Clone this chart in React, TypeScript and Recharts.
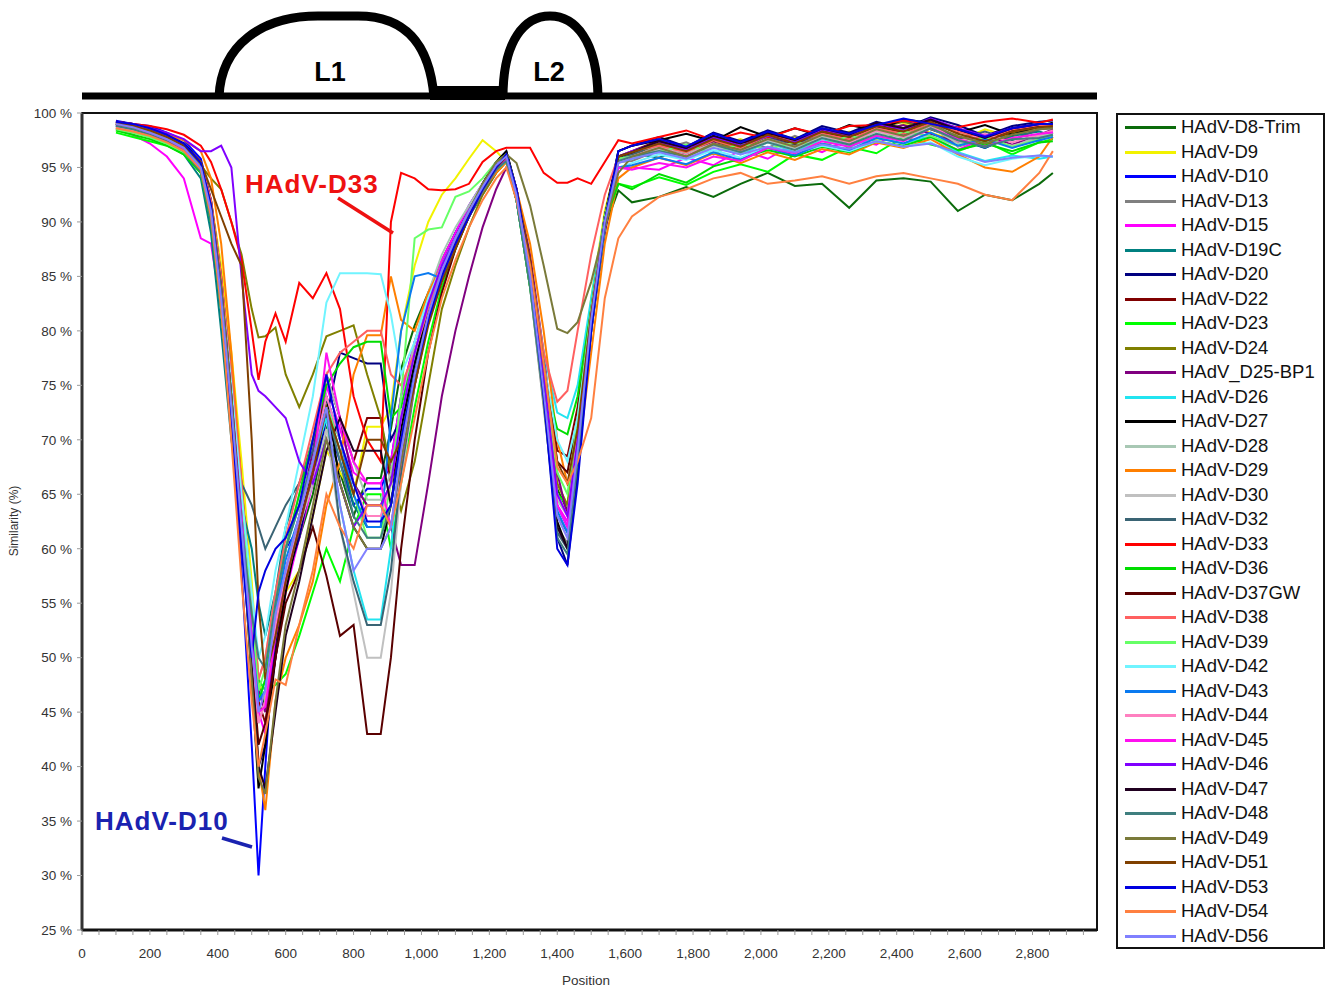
import React from 'react';
import { LineChart, Line, XAxis, YAxis, ReferenceArea } from 'recharts';

// sequence position (shared by every series)
const positions = [
  100, 150, 200, 250, 300, 350, 380, 410, 440, 470,
  500, 520, 540, 570, 600, 640, 680, 720, 760, 800,
  840, 880, 910, 940, 980, 1020, 1060, 1100, 1140, 1180,
  1220, 1250, 1280, 1320, 1360, 1400, 1430, 1460, 1500, 1540,
  1580, 1620, 1700, 1780, 1860, 1940, 2020, 2100, 2180, 2260,
  2340, 2420, 2500, 2580, 2660, 2740, 2820, 2860,
];

// similarity (%), one array per genome
const d8Trim = [
  98.6, 98.4, 97.9, 97.5, 96.8, 95.2, 91.5, 85.0, 77.0, 67.0,
  56.0, 48.0, 45.5, 51.0, 57.0, 61.0, 65.0, 71.0, 67.0, 63.0,
  66.5, 66.5, 71.0, 76.5, 80.5, 83.5, 86.5, 89.0, 91.0, 93.2,
  94.8, 96.0, 92.5, 85.0, 75.0, 65.5, 63.5, 70.0, 81.0, 89.5,
  92.9, 91.8, 92.3, 93.2, 92.3, 93.5, 94.5, 93.3, 93.5, 91.3,
  93.8, 94.0, 93.7, 91.0, 92.5, 92.0, 93.5, 94.5,
];
const d9 = [
  99.0, 98.8, 98.3, 97.8, 97.0, 95.5, 92.0, 86.0, 78.0, 68.0,
  57.0, 48.0, 46.0, 52.0, 56.0, 58.0, 63.0, 69.0, 67.0, 65.0,
  71.2, 71.2, 73.0, 80.0, 86.0, 90.0, 92.5, 94.0, 95.8, 97.5,
  96.5, 95.5, 93.0, 86.0, 76.0, 66.0, 64.0, 72.0, 83.0, 91.0,
  95.8, 96.4, 97.2, 95.8, 96.9, 97.6, 96.5, 97.8, 97.1, 98.3,
  97.6, 99.0, 98.2, 97.4, 98.5, 97.8, 98.8, 98.6,
];
const d10 = [
  99.3, 99.0, 98.8, 98.2, 97.5, 95.8, 92.0, 84.0, 72.0, 58.0,
  42.0, 30.0, 40.0, 54.0, 60.0, 62.0, 66.0, 72.0, 68.0, 64.0,
  65.5, 65.5, 68.0, 74.0, 79.0, 83.0, 86.0, 89.0, 91.5, 93.5,
  95.5, 96.2, 93.0, 86.0, 75.0, 64.0, 62.0, 70.0, 82.0, 90.5,
  96.0, 96.0, 97.4, 96.8, 97.9, 96.9, 98.0, 97.2, 98.4, 97.7,
  98.6, 99.3, 98.5, 97.6, 96.8, 97.9, 98.9, 98.9,
];
const d13 = [
  98.8, 98.5, 98.0, 97.4, 96.5, 94.5, 90.0, 82.0, 73.0, 63.0,
  52.0, 44.0, 46.0, 53.0, 58.0, 63.0, 67.0, 74.0, 70.0, 66.0,
  64.0, 64.0, 66.0, 72.0, 78.0, 82.5, 86.0, 88.5, 91.0, 93.0,
  95.0, 96.0, 92.0, 84.0, 73.0, 62.0, 60.5, 68.0, 80.0, 89.5,
  95.5, 95.6, 96.6, 97.3, 96.2, 97.5, 96.8, 97.9, 96.9, 97.8,
  98.5, 97.9, 98.9, 96.9, 97.6, 98.3, 97.4, 98.2,
];
const d15 = [
  98.5, 98.0, 97.2, 96.0, 94.0, 88.5, 88.0, 82.0, 72.0, 62.0,
  52.0, 45.0, 43.0, 50.0, 56.0, 61.0, 66.0, 75.0, 71.0, 67.0,
  66.0, 66.0, 68.0, 74.0, 79.0, 83.0, 86.5, 89.0, 91.5, 93.5,
  95.2, 96.0, 92.5, 85.0, 74.5, 64.0, 62.5, 70.0, 81.0, 90.0,
  95.0, 95.0, 94.8, 95.9, 95.2, 96.6, 95.8, 97.2, 96.4, 97.6,
  97.1, 98.6, 97.8, 96.6, 97.7, 96.9, 97.8, 98.3,
];
const d19c = [
  98.7, 98.3, 97.8, 97.2, 96.2, 94.0, 89.0, 80.0, 70.0, 64.0,
  60.0, 55.0, 52.0, 56.0, 62.0, 66.0, 70.0, 73.0, 69.0, 64.0,
  62.0, 62.0, 64.0, 70.0, 76.0, 81.0, 85.0, 88.0, 90.5, 92.5,
  94.5, 95.6, 92.0, 84.5, 74.0, 63.0, 61.5, 69.0, 80.5, 89.0,
  95.5, 96.3, 95.9, 96.9, 97.4, 96.3, 97.6, 96.9, 98.1, 97.2,
  98.4, 98.0, 99.1, 97.7, 96.8, 97.9, 98.3, 97.9,
];
const d20 = [
  99.2, 99.0, 98.6, 98.0, 97.2, 95.5, 92.0, 85.0, 75.0, 63.0,
  50.0, 40.0, 42.0, 51.0, 57.0, 61.0, 67.0, 72.0, 78.0, 77.5,
  77.0, 77.0, 70.0, 72.0, 77.0, 82.0, 85.5, 88.5, 91.0, 93.5,
  95.5, 96.5, 93.0, 85.5, 75.0, 61.0, 58.5, 67.0, 80.0, 90.0,
  96.5, 97.0, 97.8, 96.9, 98.2, 97.4, 98.4, 97.6, 98.8, 98.2,
  99.2, 98.6, 99.6, 98.9, 97.9, 98.8, 99.2, 99.3,
];
const d22 = [
  99.0, 98.7, 98.2, 97.6, 96.8, 95.0, 91.0, 84.0, 75.0, 65.0,
  54.0, 46.0, 44.0, 50.0, 57.0, 62.0, 67.0, 76.0, 72.0, 68.0,
  72.0, 72.0, 66.0, 70.0, 76.0, 81.0, 85.0, 88.0, 90.5, 93.0,
  95.0, 96.2, 93.0, 86.0, 77.0, 69.0, 68.5, 73.0, 82.5, 90.5,
  96.0, 96.5, 97.5, 96.6, 97.6, 97.1, 98.1, 97.4, 98.3, 97.9,
  98.9, 98.4, 99.3, 98.6, 97.5, 98.2, 98.9, 98.7,
];
const d23 = [
  98.2, 97.8, 97.4, 97.0, 96.2, 94.5, 90.0, 82.0, 72.0, 62.0,
  52.0, 48.0, 47.0, 47.5, 48.5, 52.0, 56.0, 60.0, 57.0, 62.0,
  65.0, 65.0, 60.0, 66.0, 73.0, 79.0, 84.0, 87.5, 90.5, 93.0,
  95.0, 96.0, 92.0, 84.0, 74.0, 65.0, 64.0, 71.0, 82.0, 90.0,
  93.5, 93.2, 94.1, 93.4, 94.6, 95.3, 94.6, 96.2, 95.7, 96.9,
  96.3, 97.8, 97.1, 96.5, 97.4, 96.2, 97.3, 97.6,
];
const d24 = [
  99.0, 98.6, 98.2, 97.6, 96.8, 95.2, 94.0, 93.0, 90.0, 87.0,
  82.0, 79.4, 79.5, 80.3, 76.0, 73.0, 76.0, 79.5, 80.0, 80.5,
  76.0, 72.0, 67.0, 63.5, 68.0, 75.0, 82.0, 86.0, 89.5, 92.5,
  94.5, 95.5, 92.0, 85.0, 75.0, 66.0, 64.0, 71.0, 82.0, 90.0,
  95.8, 96.2, 97.1, 96.3, 97.4, 96.6, 97.9, 97.0, 98.2, 97.5,
  98.6, 99.2, 98.5, 97.8, 97.0, 98.1, 98.7, 98.8,
];
const d25bp1 = [
  98.8, 98.5, 98.0, 97.4, 96.5, 94.8, 91.0, 84.0, 75.0, 65.0,
  55.0, 47.0, 45.0, 52.0, 58.0, 63.0, 69.0, 76.0, 72.0, 66.0,
  64.0, 64.0, 62.0, 58.5, 58.5, 66.0, 74.0, 80.0, 85.0, 89.5,
  93.0, 95.0, 93.0, 87.0, 78.0, 67.0, 63.0, 68.0, 80.0, 89.0,
  95.5, 96.0, 96.9, 96.2, 97.3, 96.4, 97.6, 97.1, 97.9, 97.4,
  98.4, 98.9, 98.1, 97.3, 98.0, 97.1, 98.0, 98.5,
];
const d26 = [
  99.0, 98.7, 98.2, 97.6, 96.8, 95.0, 91.0, 83.0, 73.0, 62.0,
  52.0, 46.0, 48.0, 55.0, 60.0, 64.0, 68.0, 72.0, 64.0, 58.0,
  53.5, 53.5, 60.0, 70.0, 77.0, 82.0, 85.5, 88.5, 91.0, 93.0,
  95.0, 95.8, 92.5, 86.0, 78.0, 72.5, 72.0, 75.0, 83.0, 90.5,
  95.5, 95.8, 96.8, 95.9, 97.1, 96.2, 97.3, 96.4, 97.6, 96.9,
  97.8, 97.2, 97.9, 96.4, 95.6, 96.1, 95.8, 96.0,
];
const d27 = [
  99.2, 99.0, 98.5, 98.0, 97.2, 95.5, 91.5, 84.0, 74.0, 62.0,
  48.0, 38.0, 42.0, 50.0, 56.0, 62.0, 68.0, 74.0, 66.0, 62.0,
  60.0, 60.0, 64.0, 71.0, 77.0, 82.0, 85.5, 88.5, 91.0, 93.5,
  95.5, 96.5, 93.0, 85.0, 74.0, 62.5, 60.0, 68.0, 81.0, 90.5,
  96.5, 97.0, 97.5, 98.1, 97.4, 98.7, 97.8, 98.6, 97.9, 98.9,
  98.4, 99.4, 99.1, 98.2, 98.9, 98.0, 98.8, 99.1,
];
const d28 = [
  98.5, 98.2, 97.8, 97.2, 96.4, 94.6, 90.5, 83.0, 74.0, 64.0,
  54.0, 48.0, 50.0, 56.0, 60.0, 65.0, 70.0, 76.0, 72.0, 68.0,
  64.5, 64.5, 67.0, 73.0, 79.0, 83.5, 87.0, 89.5, 91.5, 93.5,
  95.0, 95.8, 92.5, 85.0, 75.0, 64.5, 63.0, 70.5, 81.5, 90.0,
  95.8, 96.0, 96.9, 96.3, 97.2, 96.5, 97.5, 96.8, 97.9, 97.3,
  98.3, 97.7, 98.7, 97.2, 97.8, 96.9, 97.9, 98.1,
];
const d29 = [
  99.0, 98.8, 98.6, 98.0, 97.5, 96.5, 94.0, 88.0, 78.0, 66.0,
  50.0, 40.0, 36.0, 46.0, 50.0, 53.0, 57.0, 64.0, 68.0, 76.0,
  79.6, 79.6, 85.0, 81.0, 80.0, 83.5, 86.0, 88.5, 91.0, 93.0,
  94.5, 95.5, 93.0, 88.0, 80.0, 70.0, 66.0, 68.0, 78.0, 88.0,
  94.0, 95.0, 95.9, 95.2, 96.3, 95.4, 96.4, 95.7, 96.7, 96.2,
  97.3, 96.8, 97.6, 96.2, 95.0, 94.6, 96.0, 97.8,
];
const d30 = [
  98.6, 98.3, 97.9, 97.3, 96.5, 94.8, 90.5, 82.0, 72.0, 61.0,
  50.0, 44.0, 46.0, 53.0, 58.0, 62.0, 66.0, 71.0, 62.0, 56.0,
  50.0, 50.0, 56.0, 66.0, 75.0, 81.0, 85.0, 88.0, 90.5, 93.0,
  95.0, 95.8, 92.0, 84.0, 73.5, 63.0, 61.0, 69.0, 80.5, 89.5,
  95.5, 96.0, 96.6, 95.9, 97.0, 96.4, 97.3, 96.6, 97.7, 97.1,
  98.0, 98.5, 97.7, 97.0, 97.6, 97.0, 97.6, 98.0,
];
const d32 = [
  98.9, 98.6, 98.1, 97.5, 96.6, 94.8, 90.0, 82.0, 73.0, 66.0,
  64.0, 62.0, 60.0, 62.0, 64.0, 66.0, 69.0, 73.0, 62.0, 57.0,
  53.0, 53.0, 58.0, 67.0, 75.0, 81.0, 85.0, 88.0, 90.5, 92.8,
  94.8, 95.8, 92.0, 84.5, 74.0, 61.5, 60.0, 68.0, 80.0, 89.5,
  95.8, 96.2, 97.2, 96.5, 97.6, 96.9, 97.8, 97.1, 98.2, 97.6,
  98.7, 98.1, 99.0, 97.6, 98.3, 97.5, 98.5, 98.6,
];
const d33 = [
  99.2, 99.0, 98.8, 98.5, 98.0, 97.0, 95.5, 93.0, 90.0, 86.5,
  80.0, 75.5, 79.0, 81.6, 79.0, 84.4, 83.0, 85.3, 82.0, 74.0,
  70.0, 68.0, 90.0, 94.5, 94.0, 93.0, 92.9, 93.0, 93.5, 95.5,
  96.5, 96.8, 96.8, 96.8, 94.5, 93.6, 93.6, 94.0, 93.5, 95.5,
  97.5, 97.2, 97.8, 98.4, 97.5, 98.2, 97.7, 98.6, 98.0, 98.8,
  98.9, 99.3, 99.0, 98.7, 99.2, 99.5, 99.1, 99.4,
];
const d36 = [
  98.4, 98.0, 97.6, 97.0, 96.2, 94.5, 90.0, 82.0, 72.0, 62.0,
  52.0, 46.0, 48.0, 55.0, 60.0, 65.0, 70.0, 75.0, 77.0, 78.5,
  79.0, 79.0, 72.0, 73.0, 78.0, 82.5, 86.0, 88.5, 91.0, 93.0,
  94.8, 95.6, 92.0, 84.0, 76.0, 71.0, 70.5, 74.0, 82.0, 90.0,
  93.5, 93.0, 94.4, 93.6, 95.1, 95.8, 96.6, 96.0, 96.9, 96.4,
  97.4, 97.0, 97.8, 96.6, 97.2, 96.5, 97.3, 97.4,
];
const d37gw = [
  99.0, 98.7, 98.2, 97.6, 96.8, 95.0, 91.0, 83.0, 73.0, 62.0,
  50.0, 42.0, 44.0, 50.0, 55.0, 58.0, 62.0, 57.5, 52.0, 53.0,
  43.0, 43.0, 50.0, 60.0, 70.0, 78.0, 83.5, 87.5, 90.5, 93.0,
  95.0, 96.0, 93.0, 86.0, 76.0, 68.0, 67.0, 72.0, 82.0, 90.5,
  96.0, 96.4, 97.3, 96.7, 97.8, 97.0, 97.9, 97.2, 98.3, 97.7,
  98.8, 98.2, 99.4, 98.4, 97.6, 98.4, 98.9, 98.8,
];
const d38 = [
  99.0, 98.8, 98.4, 97.8, 97.0, 95.5, 92.0, 85.0, 76.0, 66.0,
  55.0, 48.0, 50.0, 56.0, 61.0, 66.0, 71.0, 76.0, 78.0, 79.0,
  80.0, 80.0, 76.0, 75.0, 78.0, 82.0, 85.5, 88.5, 91.0, 93.2,
  95.0, 95.8, 92.5, 86.0, 78.0, 73.5, 74.5, 80.0, 87.0, 92.5,
  96.0, 96.5, 97.0, 96.4, 97.5, 96.8, 97.9, 97.4, 98.1, 97.6,
  98.6, 98.1, 99.0, 98.3, 97.6, 98.5, 98.9, 98.8,
];
const d39 = [
  98.5, 98.2, 97.8, 97.2, 96.4, 94.8, 90.5, 83.0, 74.0, 64.0,
  54.0, 47.0, 49.0, 55.0, 60.0, 64.0, 68.0, 73.0, 70.0, 65.0,
  61.0, 61.0, 66.0, 74.0, 88.5, 89.3, 89.5, 92.3, 92.8, 94.0,
  95.5, 96.2, 93.0, 85.5, 76.0, 67.0, 65.0, 72.0, 82.0, 90.5,
  95.8, 96.0, 96.4, 97.1, 96.3, 97.2, 96.7, 97.3, 97.0, 97.9,
  97.4, 98.3, 97.9, 97.0, 97.8, 96.9, 97.6, 98.0,
];
const d42 = [
  98.8, 98.5, 98.0, 97.4, 96.6, 95.0, 91.0, 84.0, 75.0, 65.0,
  56.0, 50.0, 52.0, 58.0, 62.0, 68.0, 74.0, 82.6, 85.3, 85.3,
  85.3, 85.2, 81.5, 76.0, 79.0, 83.0, 86.0, 88.5, 91.0, 93.0,
  94.8, 95.6, 92.5, 85.5, 77.0, 70.0, 68.0, 72.0, 81.0, 89.5,
  95.0, 95.4, 96.2, 95.7, 96.6, 95.9, 96.9, 96.3, 97.0, 96.5,
  97.4, 96.9, 97.3, 96.0, 95.2, 95.8, 96.1, 96.0,
];
const d43 = [
  98.9, 98.6, 98.2, 97.6, 96.8, 95.0, 91.0, 84.0, 74.0, 63.0,
  52.0, 46.0, 47.0, 54.0, 59.0, 63.0, 68.0, 74.0, 70.0, 65.0,
  62.0, 62.0, 72.0, 80.0, 85.0, 85.3, 84.8, 88.5, 91.0, 93.0,
  94.8, 95.8, 92.0, 84.5, 74.5, 63.5, 61.5, 69.0, 81.0, 90.0,
  95.0, 95.2, 95.9, 95.3, 96.4, 95.7, 96.8, 96.1, 97.2, 96.6,
  97.7, 97.2, 98.2, 97.0, 97.6, 96.8, 97.5, 97.8,
];
const d44 = [
  98.7, 98.4, 98.0, 97.4, 96.6, 94.8, 90.5, 83.0, 73.0, 62.0,
  51.0, 44.0, 46.0, 53.0, 58.0, 63.0, 68.0, 74.0, 70.0, 66.0,
  63.0, 63.0, 66.0, 72.0, 78.0, 82.5, 86.0, 88.5, 91.0, 93.2,
  95.0, 95.8, 92.5, 85.0, 75.0, 65.0, 63.0, 70.0, 81.5, 90.0,
  95.6, 96.0, 96.8, 96.1, 97.2, 96.5, 97.6, 96.9, 98.0, 97.3,
  98.4, 97.8, 98.9, 97.4, 98.1, 97.3, 98.0, 98.4,
];
const d45 = [
  98.9, 98.6, 98.1, 97.5, 96.7, 95.0, 91.0, 84.0, 74.0, 63.0,
  52.0, 45.0, 45.5, 52.0, 57.0, 62.0, 67.0, 78.0, 72.0, 68.0,
  66.0, 66.0, 62.0, 68.0, 75.0, 81.0, 85.0, 88.0, 90.5, 92.8,
  94.8, 95.8, 92.5, 85.5, 75.0, 64.0, 62.0, 69.5, 81.0, 90.0,
  95.0, 94.8, 95.4, 95.0, 96.0, 95.6, 96.8, 96.3, 97.4, 96.9,
  97.9, 97.4, 98.6, 97.6, 96.9, 97.7, 98.1, 98.2,
];
const d46 = [
  99.2, 99.0, 98.6, 98.2, 97.6, 96.5, 96.5, 97.0, 95.0, 85.0,
  76.0, 74.5, 74.0, 73.0, 72.0, 68.0, 66.0, 70.0, 66.0, 62.0,
  64.0, 64.0, 66.0, 72.0, 78.0, 82.5, 86.0, 88.5, 91.0, 93.0,
  95.0, 96.0, 93.0, 86.0, 76.0, 65.0, 63.0, 70.0, 81.5, 90.0,
  96.0, 96.5, 97.3, 96.6, 97.8, 97.0, 97.9, 97.3, 98.5, 97.9,
  99.0, 98.5, 99.5, 98.6, 97.9, 98.6, 99.0, 99.0,
];
const d47 = [
  99.1, 98.8, 98.3, 97.7, 96.9, 95.2, 91.5, 84.0, 74.0, 62.0,
  49.0, 40.0, 38.0, 45.0, 52.0, 57.0, 63.0, 69.0, 72.0, 69.0,
  69.0, 69.0, 64.0, 70.0, 76.0, 81.5, 85.0, 88.0, 90.5, 93.0,
  95.0, 96.0, 92.5, 85.0, 74.5, 62.0, 60.0, 68.0, 80.5, 90.0,
  96.0, 96.4, 97.4, 96.8, 97.9, 97.2, 98.2, 97.5, 98.6, 98.0,
  99.1, 98.6, 99.4, 98.5, 97.7, 98.6, 99.0, 99.0,
];
const d48 = [
  98.8, 98.5, 98.0, 97.4, 96.5, 94.6, 90.0, 82.0, 72.0, 62.0,
  54.0, 50.0, 49.0, 55.0, 60.0, 64.0, 68.0, 73.0, 68.0, 63.0,
  61.0, 61.0, 64.0, 70.0, 76.0, 81.0, 85.0, 88.0, 90.5, 92.8,
  94.8, 95.6, 92.0, 84.0, 73.5, 61.0, 59.5, 68.0, 80.0, 89.5,
  95.6, 96.0, 96.5, 96.0, 97.1, 96.4, 97.3, 96.6, 97.7, 97.1,
  98.1, 97.5, 98.6, 97.5, 96.9, 97.6, 97.7, 98.0,
];
const d49 = [
  99.0, 98.7, 98.3, 97.7, 96.9, 95.2, 91.5, 84.0, 74.0, 62.0,
  48.0, 39.0, 37.5, 46.0, 53.0, 58.0, 64.0, 70.0, 66.0, 62.0,
  60.0, 60.0, 62.0, 68.0, 75.0, 81.0, 85.0, 88.0, 91.0, 93.5,
  95.5, 96.2, 95.4, 91.5, 86.0, 80.2, 79.8, 80.8, 84.5, 89.5,
  94.5, 96.0, 96.8, 96.0, 97.2, 96.6, 97.6, 96.9, 98.0, 97.4,
  98.5, 97.9, 98.9, 97.9, 97.2, 98.0, 98.5, 98.6,
];
const d51 = [
  99.1, 98.8, 98.4, 97.8, 97.0, 95.5, 93.0, 90.5, 88.0, 86.0,
  70.0, 55.0, 48.0, 52.0, 57.0, 62.0, 67.0, 73.0, 69.0, 65.0,
  70.0, 70.0, 68.0, 70.0, 75.0, 80.5, 84.5, 87.5, 90.5, 93.0,
  95.0, 96.0, 93.0, 86.5, 77.0, 68.0, 66.0, 71.0, 81.5, 90.0,
  96.0, 96.4, 97.2, 96.5, 97.6, 96.9, 98.0, 97.2, 98.3, 97.8,
  98.8, 98.3, 99.2, 98.1, 97.4, 98.3, 98.7, 98.8,
];
const d53 = [
  99.2, 99.0, 98.6, 98.0, 97.2, 95.4, 91.5, 83.0, 72.0, 60.0,
  50.0, 56.0, 58.0, 60.0, 61.0, 64.0, 70.0, 76.0, 70.0, 66.0,
  62.5, 62.5, 64.0, 70.0, 76.0, 81.0, 85.0, 88.0, 90.5, 93.0,
  95.0, 96.2, 93.0, 85.5, 74.0, 60.0, 58.5, 66.0, 80.0, 90.0,
  96.5, 97.0, 97.6, 96.9, 98.1, 97.3, 98.3, 97.6, 98.6, 98.1,
  98.9, 99.5, 99.0, 98.5, 97.8, 98.6, 99.0, 99.0,
];
const d54 = [
  98.6, 98.3, 97.9, 97.3, 96.5, 94.8, 90.5, 82.0, 70.0, 57.0,
  46.0, 40.0, 43.0, 48.0, 47.5, 53.0, 58.0, 65.0, 62.0, 60.0,
  64.0, 64.0, 62.0, 66.0, 72.0, 78.0, 83.0, 86.5, 89.5, 92.0,
  94.0, 95.0, 92.0, 86.0, 77.0, 67.5, 66.0, 68.0, 72.0, 83.0,
  88.5, 90.5, 92.3, 93.0, 94.0, 94.5, 93.5, 93.8, 94.2, 93.5,
  94.2, 94.5, 94.0, 93.5, 92.5, 92.0, 94.5, 96.5,
];
const d56 = [
  99.0, 98.7, 98.2, 97.6, 96.8, 95.0, 91.0, 83.0, 73.0, 62.0,
  51.0, 45.0, 47.0, 54.0, 58.0, 63.0, 68.0, 73.0, 64.0, 58.0,
  60.0, 60.0, 62.0, 69.0, 76.0, 81.5, 85.5, 88.5, 91.0, 93.2,
  95.2, 96.0, 92.5, 85.0, 74.5, 63.0, 61.0, 69.0, 81.0, 90.0,
  95.4, 95.8, 96.4, 95.8, 96.8, 96.2, 96.9, 96.4, 97.1, 96.7,
  97.4, 96.9, 97.2, 96.3, 95.5, 95.9, 96.1, 96.0,
];

const series = [
  { name: 'HAdV-D8-Trim', color: '#0b6b0b', values: d8Trim },
  { name: 'HAdV-D9', color: '#f2f200', values: d9 },
  { name: 'HAdV-D10', color: '#0000ff', values: d10 },
  { name: 'HAdV-D13', color: '#808080', values: d13 },
  { name: 'HAdV-D15', color: '#ff00ff', values: d15 },
  { name: 'HAdV-D19C', color: '#008080', values: d19c },
  { name: 'HAdV-D20', color: '#000080', values: d20 },
  { name: 'HAdV-D22', color: '#800000', values: d22 },
  { name: 'HAdV-D23', color: '#00ff00', values: d23 },
  { name: 'HAdV-D24', color: '#808000', values: d24 },
  { name: 'HAdV_D25-BP1', color: '#800080', values: d25bp1 },
  { name: 'HAdV-D26', color: '#22e4f0', values: d26 },
  { name: 'HAdV-D27', color: '#000000', values: d27 },
  { name: 'HAdV-D28', color: '#a8c8b4', values: d28 },
  { name: 'HAdV-D29', color: '#ff7f00', values: d29 },
  { name: 'HAdV-D30', color: '#c0c0c0', values: d30 },
  { name: 'HAdV-D32', color: '#3a6474', values: d32 },
  { name: 'HAdV-D33', color: '#ff0000', values: d33 },
  { name: 'HAdV-D36', color: '#00dd00', values: d36 },
  { name: 'HAdV-D37GW', color: '#5a0000', values: d37gw },
  { name: 'HAdV-D38', color: '#ff6060', values: d38 },
  { name: 'HAdV-D39', color: '#66ff66', values: d39 },
  { name: 'HAdV-D42', color: '#70f4ff', values: d42 },
  { name: 'HAdV-D43', color: '#0a7af0', values: d43 },
  { name: 'HAdV-D44', color: '#ff80c0', values: d44 },
  { name: 'HAdV-D45', color: '#ff10f0', values: d45 },
  { name: 'HAdV-D46', color: '#8000ff', values: d46 },
  { name: 'HAdV-D47', color: '#200020', values: d47 },
  { name: 'HAdV-D48', color: '#3f7f7f', values: d48 },
  { name: 'HAdV-D49', color: '#7a7a3a', values: d49 },
  { name: 'HAdV-D51', color: '#804000', values: d51 },
  { name: 'HAdV-D53', color: '#0000e0', values: d53 },
  { name: 'HAdV-D54', color: '#ff8040', values: d54 },
  { name: 'HAdV-D56', color: '#8080ff', values: d56 },
];

const yTicks = [25, 30, 35, 40, 45, 50, 55, 60, 65, 70, 75, 80, 85, 90, 95, 100];
const xLabelTicks = [0, 200, 400, 600, 800, 1000, 1200, 1400, 1600, 1800, 2000, 2200, 2400, 2600, 2800];
// minor tick marks every 50 between the labelled ones
const xTicks = xLabelTicks.flatMap(t => [t, t + 50, t + 100, t + 150]);

const chartData = positions.map((pos, i) => {
  const row: Record<string, number> = { pos };
  series.forEach((s, k) => {
    row[`s${k}`] = s.values[i];
  });
  return row;
});

const font = '"Liberation Sans", Arial, sans-serif';

const App: React.FC = () => {
  return (
    <div style={{ position: 'absolute', left: 0, top: 0, width: 1327, height: 988, background: '#fff', fontFamily: font }}>
      <div style={{ position: 'absolute', left: 0, top: 0 }}>
        <LineChart width={1100} height={990} data={chartData} margin={{ top: 113, right: 3, bottom: 0, left: 22 }}>
          <XAxis
            dataKey="pos"
            type="number"
            domain={[0, 2990]}
            ticks={xTicks}
            interval={0}
            height={60}
            tickFormatter={(v: number) => (v % 200 === 0 ? v.toLocaleString('en-US') : '')}
            tick={{ fontSize: 13.5, fill: '#333', fontFamily: font }}
            tickSize={5}
            tickMargin={13}
            tickLine={{ stroke: '#999' }}
            axisLine={{ stroke: '#111', strokeWidth: 3 }}
          />
          <YAxis
            type="number"
            domain={[25, 100]}
            ticks={yTicks}
            interval={0}
            width={60}
            tickFormatter={(v: number) => `${v} %`}
            tick={{ fontSize: 13.5, fill: '#333', fontFamily: font }}
            tickSize={5}
            tickMargin={5}
            tickLine={{ stroke: '#999' }}
            axisLine={{ stroke: '#333', strokeWidth: 3 }}
          />
          <ReferenceArea x1={0} x2={2990} y1={25} y2={100} fill="none" stroke="#111" strokeWidth={2} />
          {series.map((s, k) => (
            <Line
              key={s.name}
              dataKey={`s${k}`}
              name={s.name}
              type="linear"
              stroke={s.color}
              strokeWidth={2}
              dot={false}
              activeDot={false}
              isAnimationActive={false}
            />
          ))}
        </LineChart>
      </div>

      {/* legend box */}
      <div
        style={{
          position: 'absolute',
          left: 1116,
          top: 113,
          width: 209,
          height: 836,
          border: '2px solid #111',
          boxSizing: 'border-box',
        }}
      >
        {series.map(s => (
          <div key={s.name} style={{ position: 'relative', height: 24.5 }}>
            <span style={{ position: 'absolute', left: 7, top: 11, width: 51, height: 3, background: s.color }} />
            <span style={{ position: 'absolute', left: 63, top: 1, fontSize: 18.5, lineHeight: '22px', color: '#111', whiteSpace: 'nowrap' }}>
              {s.name}
            </span>
          </div>
        ))}
      </div>

      {/* L1 / L2 diagram, axis titles and callouts */}
      <svg width={1327} height={988} style={{ position: 'absolute', left: 0, top: 0, pointerEvents: 'none' }}>
        <line x1={82} y1={96} x2={1097} y2={96} stroke="#000" strokeWidth={7} />
        <rect x={430} y={86} width={75} height={14} fill="#000" />
        <path d="M 219 97 C 221 45, 262 16, 318 16 L 358 16 C 410 16, 430 50, 434 97" fill="none" stroke="#000" strokeWidth={9} />
        <path d="M 503 97 C 503 40, 525 16, 550 16 C 575 16, 597 40, 598 97" fill="none" stroke="#000" strokeWidth={9} />
        <text x={330} y={81} textAnchor="middle" fontSize={27} fontWeight="bold" fontFamily={font}>L1</text>
        <text x={549} y={81} textAnchor="middle" fontSize={27} fontWeight="bold" fontFamily={font}>L2</text>

        <text x={18} y={521} transform="rotate(-90 18 521)" textAnchor="middle" fontSize={12} fill="#333" fontFamily={font}>Similarity (%)</text>
        <text x={586} y={985} textAnchor="middle" fontSize={13.5} fill="#333" fontFamily={font}>Position</text>

        <text x={245} y={193} fontSize={26} fontWeight="bold" fill="#ee1111" letterSpacing={1} fontFamily={font}>HAdV-D33</text>
        <line x1={338} y1={198} x2={393} y2={233} stroke="#ee1111" strokeWidth={3.5} />
        <text x={95} y={830} fontSize={26} fontWeight="bold" fill="#1a22b0" letterSpacing={1} fontFamily={font}>HAdV-D10</text>
        <line x1={222} y1={838} x2={252} y2={847} stroke="#1a22b0" strokeWidth={3.5} />
      </svg>
    </div>
  );
};

export default App;
